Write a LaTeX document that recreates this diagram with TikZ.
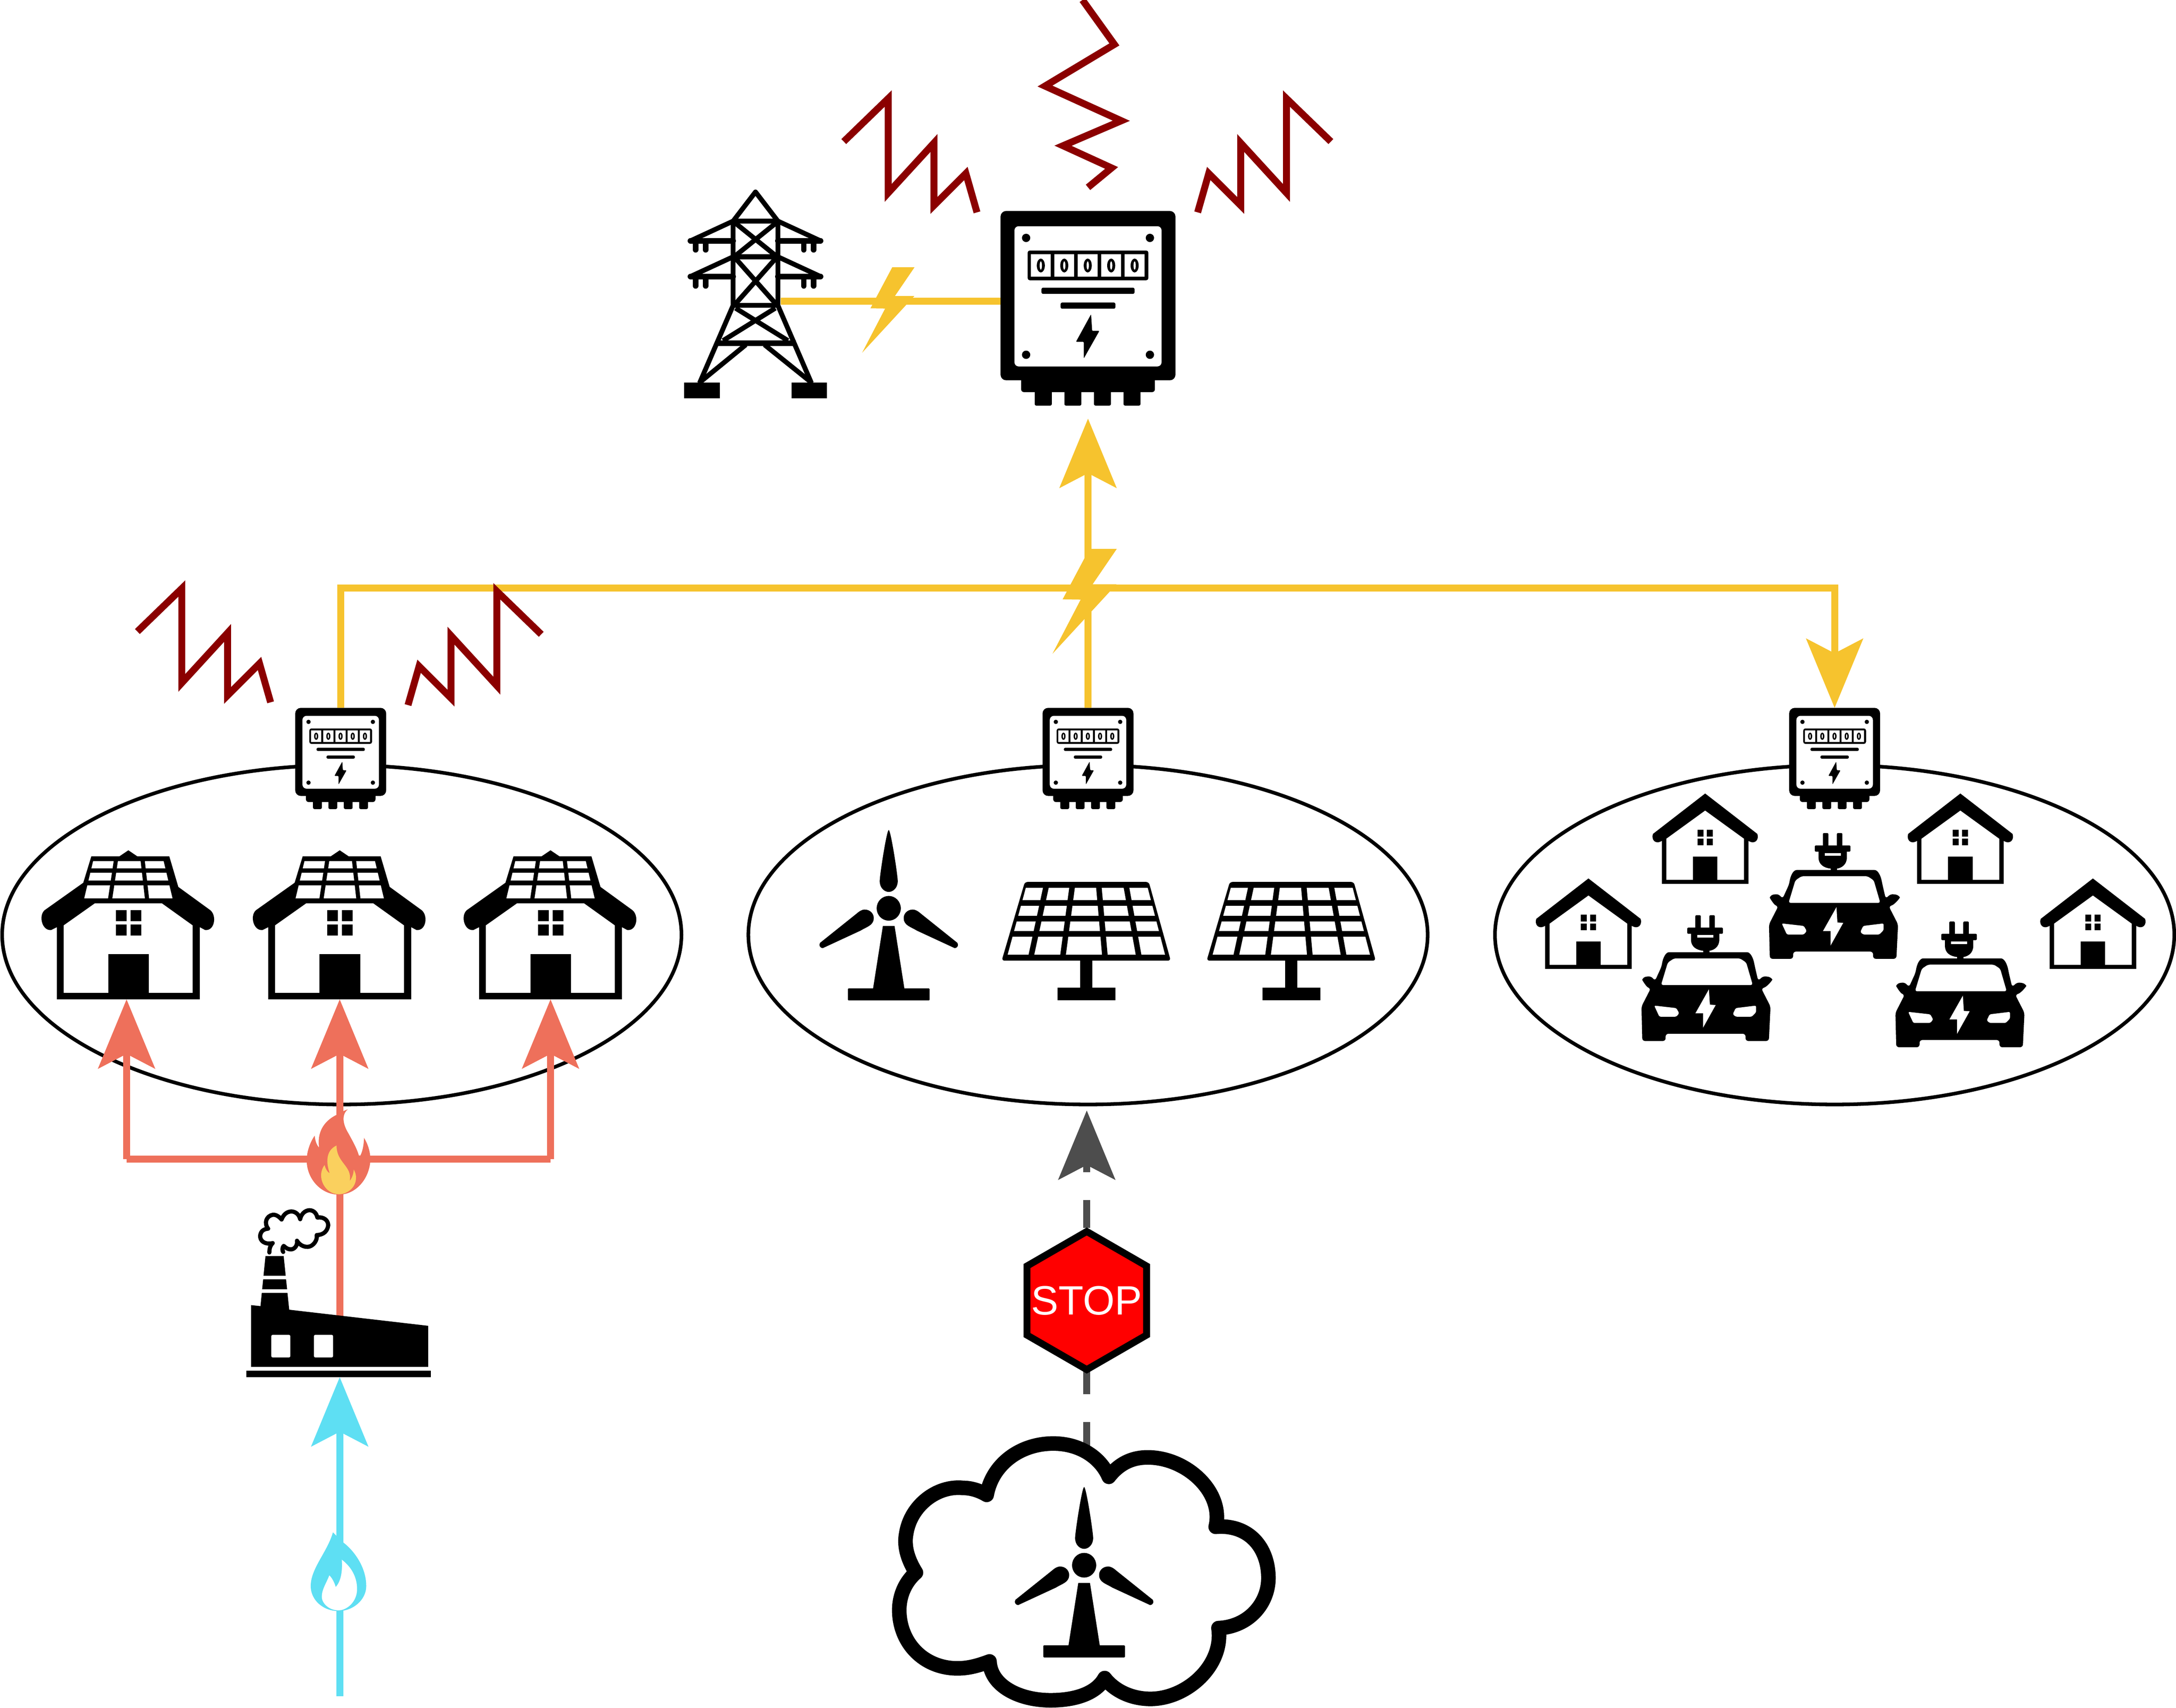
\documentclass[tikz,border=0pt]{standalone}
\usepackage{fontspec}
\setmainfont{Liberation Sans}
\usetikzlibrary{shapes.geometric,arrows.meta}
\definecolor{gridyellow}{HTML}{F6C32E}
\definecolor{heatred}{HTML}{EE705B}
\definecolor{flameyellow}{HTML}{FAD05E}
\definecolor{gasblue}{HTML}{5EDFF3}
\definecolor{dashgray}{HTML}{4D4D4D}
\definecolor{zigred}{HTML}{8B0000}

\begin{document}
\begin{tikzpicture}[
x=1pt,y=-1pt,
iconbox/.style={inner sep=0pt, outer sep=0pt},
region/.style={ellipse, draw=black, line width=2.6pt, inner sep=0pt, minimum width=489.5pt, minimum height=244.5pt},
stopsign/.style={regular polygon, regular polygon sides=6, shape border rotate=30, draw=black, fill=red, line width=5pt, inner sep=0pt, minimum size=99.5pt},
stoptext/.style={text=white, inner sep=0pt, font=\fontsize{29.5}{30}\selectfont},
gridline/.style={draw=gridyellow, line width=5pt},
heatline/.style={draw=heatred, line width=5pt},
gasline/.style={draw=gasblue, line width=5pt},
blockedline/.style={draw=dashgray, line width=5pt, dash pattern=on 20pt off 20pt},
bigtip/.tip={Stealth[length=49.7pt,width=40.7pt,inset=10.4pt]},
pylonline/.style={line width=3.5pt, line cap=butt, line join=round},
zigline/.style={draw=zigred, line width=5pt, miter limit=20},
% Icons
zigzag/.pic={
  \draw[zigline] (-32,34) -- (0,3) -- (0,71) -- (33,35) -- (33,80) -- (56,57) -- (64,85);
},
bolt/.pic={
  \fill[gridyellow] (3.5,-37.5) -- (23.2,-37.5) -- (5.8,-12) -- (23,-12) -- (-23.1,38) -- (-2.8,-1) -- (-15.8,-1.2) -- cycle;
},
meter/.pic={
  \fill[rounded corners=4pt] (-63,0) rectangle (63,122);
  \fill[rounded corners=2pt] (-48.2,118) rectangle (48.2,130.5);
  \fill[rounded corners=1pt] (-38.4,125) rectangle (-26.1,140.2);
  \fill[rounded corners=1pt] (-17,125) rectangle (-4.8,140.2);
  \fill[rounded corners=1pt] (4.3,125) rectangle (16.5,140.2);
  \fill[rounded corners=1pt] (25.6,125) rectangle (37.8,140.2);
  \fill[white,rounded corners=3pt] (-53,11) rectangle (53,112);
  \fill (-44.6,19.4) circle [radius=3] (44.6,19.4) circle [radius=3] (-44.6,103.6) circle [radius=3] (44.6,103.6) circle [radius=3];
  \fill[rounded corners=1.5pt] (-43.5,28.5) rectangle (43.5,49.9);
  \fill[white] (-41.2,31.2) rectangle ++(14.3,16.1) (-24.3,31.2) rectangle ++(14.3,16.1) (-7.4,31.2) rectangle ++(14.3,16.1) (9.5,31.2) rectangle ++(14.3,16.1) (26.4,31.2) rectangle ++(14.3,16.1);
  \fill (-34,39.3) ellipse [x radius=2.9,y radius=5] (-17.1,39.3) ellipse [x radius=2.9,y radius=5] (-0.2,39.3) ellipse [x radius=2.9,y radius=5] (16.7,39.3) ellipse [x radius=2.9,y radius=5] (33.6,39.3) ellipse [x radius=2.9,y radius=5];
  \fill[white] (-34,39.3) ellipse [x radius=0.8,y radius=3] (-17.1,39.3) ellipse [x radius=0.8,y radius=3] (-0.2,39.3) ellipse [x radius=0.8,y radius=3] (16.7,39.3) ellipse [x radius=0.8,y radius=3] (33.6,39.3) ellipse [x radius=0.8,y radius=3];
  \fill[rounded corners=1pt] (-33.5,55.3) rectangle (33.5,59.7);
  \fill[rounded corners=1pt] (-19.7,66) rectangle (19.7,70.4);
  \fill[rounded corners=0.5pt] (2.2,74.4) -- (3,86.4) -- (8.2,86.4) -- (-3,106.2) -- (-3,94.3) -- (-8.7,94.3) -- cycle;
},
solarhouse/.pic={
  \fill (-51.5,0) -- (-51.5,-52) -- (-55.5,-50) .. controls (-62,-49) and (-65,-60) .. (-60.4,-64.2) -- (-32.5,-84) -- (-26.7,-103) -- (-6.5,-103) -- (0,-107.4) -- (6.5,-103) -- (29.5,-103) -- (36,-81) -- (59.1,-64.2) .. controls (64,-60) and (62,-49) .. (55.2,-50) -- (51.5,-52) -- (51.5,0) -- cycle;
  \fill[white] (-46.6,-4.7) -- (46.3,-4.7) -- (46.3,-53.3) -- (24.1,-69.2) -- (-24.1,-69.2) -- (-46.6,-53.3) -- cycle;
  \fill (-14.5,-32.6) rectangle (14.8,-4);
  \fill (-9,-64.2) rectangle (-1.3,-56.3) (1.6,-64.2) rectangle (9.3,-56.3) (-9,-53.9) rectangle (-1.3,-46) (1.6,-53.9) rectangle (9.3,-46);
  \fill[white] (-25.4,-99.6) -- (25.4,-99.6) -- (31.8,-72.8) -- (-31.8,-72.8) -- cycle;
  \draw[line width=3.4pt] (-29,-92.8) -- (29,-92.8) (-30,-84) -- (30,-84);
  \draw[line width=3pt] (-9,-100) -- (-13.2,-72) (10.3,-100) -- (13.5,-72);
},
smallhouse/.pic={
  \fill (-31.2,0) -- (-31.2,-31) .. controls (-36,-28) and (-39,-32) .. (-37.6,-36) -- (0,-65.1) -- (37.6,-36) .. controls (39,-32) and (36,-28) .. (31.2,-31) -- (31.2,0) -- cycle;
  \fill[white] (-28,-2.9) -- (28,-2.9) -- (28,-32.5) -- (0,-52.8) -- (-28,-32.5) -- cycle;
  \fill (-8.9,-19.7) rectangle (8.9,-2);
  \fill (-5.5,-39) rectangle (-1.2,-34.1) (1.2,-39) rectangle (5.5,-34.1) (-5.5,-32.6) rectangle (-1.2,-27.8) (1.2,-32.6) rectangle (5.5,-27.8);
},
evcar/.pic={
  \fill[rounded corners=2pt] (-45.9,0) -- (-29.1,0) -- (-29.1,-5.2) -- (28.5,-5.2) -- (28.5,0) -- (45.3,0) -- (46.5,-24.8) -- (39.8,-37.9) .. controls (44,-39) and (48,-44) .. (46.8,-46) -- (41.3,-46.8) -- (37.6,-43.4) -- (35.2,-53.7) .. controls (34,-60) and (32,-64) .. (27.5,-64) -- (-24.5,-64) .. controls (-29,-64) and (-31,-60) .. (-32,-53.7) -- (-36.7,-43.4) -- (-39.8,-46.8) -- (-45.3,-46) .. controls (-46,-44) and (-43,-39) .. (-39.8,-37.9) -- (-46.5,-24.8) -- cycle;
  \fill[white,rounded corners=1.5pt] (-32.4,-40.3) -- (33.7,-40.3) -- (29,-56.5) -- (24.5,-59.5) -- (-23,-59.5) -- (-27.5,-56.5) -- cycle;
  \fill[white,rounded corners=1pt] (-37.3,-25.5) -- (-21.4,-23.7) -- (-19.3,-20) -- (-21.4,-17.5) -- (-33.6,-17.5) -- cycle;
  \fill[white,rounded corners=1pt] (36.1,-25.5) -- (21.4,-23.7) -- (19.3,-19.3) -- (21.4,-17.5) -- (33,-17.5) -- (36.1,-20.7) -- cycle;
  \fill[white] (2.1,-37.2) -- (2.8,-26.2) -- (7,-25.9) -- (-2.1,-9.6) -- (-2.1,-20) -- (-7.6,-20) -- cycle;
  \fill[rounded corners=0.8pt] (-13.5,-81.7) rectangle (12.2,-77.2);
  \fill[rounded corners=0.8pt] (-7.7,-90.6) rectangle (-3.7,-81) (2.4,-90.6) rectangle (6.4,-81);
  \fill (-10.8,-77.4) -- (9.6,-77.4) -- (9.6,-73) .. controls (9.6,-68) and (6,-65.5) .. (2.5,-65) -- (2.5,-63) -- (-2,-63) -- (-2,-65) .. controls (-7,-65.5) and (-10.8,-68) .. (-10.8,-73) -- cycle;
  \fill[white] (-6.4,-76.3) rectangle (5.2,-74.4);
},
solarpanel/.pic={
  \fill[rounded corners=2pt] (-44.3,-85.4) -- (45,-85.4) -- (60.8,-28.7) -- (-61,-28.7) -- cycle;
  \fill (-4.4,-29) rectangle (4.4,-5);
  \fill (-20.9,-9.1) rectangle (20.9,0);
  \fill[white] (-43.6,-81.2) -- (44.2,-81.2) -- (56.7,-33) -- (-56.7,-33) -- cycle;
  \draw[line width=4.1pt] (-48,-70.1) -- (48,-70.1) (-51,-59) -- (51,-59) (-54,-48.1) -- (54,-48.1);
  \draw[line width=4pt] (-29,-82) -- (-39.8,-32) (-10.2,-82) -- (-16.9,-32) (9,-82) -- (13.4,-32) (28.8,-82) -- (37.8,-32);
},
turbine/.pic={
  \fill (0,-122.8) .. controls (-1.5,-122.8) and (-6.5,-90) .. (-6.5,-86) .. controls (-6.5,-81) and (-3,-78.2) .. (0,-78.2) .. controls (3,-78.2) and (6.5,-81) .. (6.5,-86) .. controls (6.5,-90) and (1.5,-122.8) .. (0,-122.8) -- cycle;
  \fill (0,-66.4) ellipse [x radius=8.7,y radius=8.9];
  \fill (-17.4,-65.5) .. controls (-13,-65.5) and (-10.5,-62) .. (-10.8,-59) .. controls (-11,-54) and (-16,-53) .. (-20.3,-50.3) -- (-47.5,-37.7) .. controls (-50,-38) and (-50.3,-40) .. (-49.5,-41.5) -- (-23,-62.7) .. controls (-21,-64.5) and (-19,-65.5) .. (-17.4,-65.5) -- cycle;
  \fill (17.4,-65.5) .. controls (13,-65.5) and (10.5,-62) .. (10.8,-59) .. controls (11,-54) and (16,-53) .. (20.3,-50.3) -- (47.5,-37.7) .. controls (50,-38) and (50.3,-40) .. (49.5,-41.5) -- (23,-62.7) .. controls (21,-64.5) and (19,-65.5) .. (17.4,-65.5) -- cycle;
  \fill (-4.2,-53.7) -- (4.2,-53.7) -- (11.3,-8.5) -- (-11.3,-8.5) -- cycle;
  \fill[rounded corners=0.5pt] (-29.4,-8.7) rectangle (29.4,0);
}
]
\useasboundingbox (0,0) rectangle (1568,1230.5);

%Regions
\node[region] at (246.3,673.5) (regionA) {};
\node[region] at (784,673.5) (regionB) {};
\node[region] at (1322,673.5) (regionC) {};

%Nodes
\node[iconbox, minimum width=126pt, minimum height=149.6pt] at (784,226.8) (mainMeter) {};
\node[iconbox, minimum width=65.6pt, minimum height=72.8pt] at (245.5,546.4) (meterA) {};
\node[iconbox, minimum width=65.6pt, minimum height=72.8pt] at (784,546.4) (meterB) {};
\node[iconbox, minimum width=65.6pt, minimum height=72.8pt] at (1322,546.4) (meterC) {};
\node[iconbox, minimum width=116pt, minimum height=107pt] at (91.2,666.5) (houseA) {};
\node[iconbox, minimum width=116pt, minimum height=107pt] at (244.8,666.5) (houseB) {};
\node[iconbox, minimum width=116pt, minimum height=107pt] at (396.7,666.5) (houseC) {};
\node[iconbox, minimum width=133pt, minimum height=87.2pt] at (244.8,948.6) (factory) {};
\coordinate (pylonOut) at (562.5,217);
\coordinate (gridBus) at (784,423.8);
\coordinate (heatLeft) at (91.2,835);
\coordinate (heatRight) at (396.7,835);
\coordinate (factoryOut) at (244.8,950);
\coordinate (gasIn) at (244.8,1222.2);
\coordinate (cloudOut) at (783.1,1044.6);

%Lines
\draw[gridline] (pylonOut) -- (mainMeter.west |- pylonOut);
\draw[gridline,-{bigtip}] (meterB.north) -- (mainMeter.south);
\draw[gridline,-{bigtip}] (meterA.north) |- (gridBus) -| (meterC.north);
\draw[heatline] (heatLeft) -- (heatRight);
\draw[heatline,-{bigtip}] (factoryOut) -- (houseB.south);
\draw[heatline,-{bigtip}] (heatLeft) -- (houseA.south);
\draw[heatline,-{bigtip}] (heatRight) -- (houseC.south);
\draw[gasline,-{bigtip}] (gasIn) -- (factory.south);
\draw[blockedline,-{bigtip},shorten >=3pt] (cloudOut) -- (cloudOut |- regionB.south);

%Stop sign
\node[stopsign] at (783.1,937) (stop) {};
\node[stoptext] at (stop.center) (stopLabel) {STOP};

%Meters
\pic at (784,152) {meter};
\pic[scale=0.52] at (245.5,510) {meter};
\pic[scale=0.52] at (784,510) {meter};
\pic[scale=0.52] at (1322,510) {meter};

%Bolts
\pic[scale=0.815] at (640.1,223.1) {bolt};
\pic at (781.5,433) {bolt};

%Zigzags
\pic at (640,68) {zigzag};
\pic[xscale=-1] at (927,68) {zigzag};
\pic at (131,421) {zigzag};
\pic[xscale=-1] at (358,423) {zigzag};
\draw[zigline] (780,0) -- (803,32) -- (753,62) -- (808,87) -- (766,105) -- (801,121) -- (784,135);

%Pylon
\draw[pylonline] (544.4,138.3) -- (528.3,159.3) -- (560.5,159.3) -- cycle;
\draw[pylonline] (528.3,159.3) -- (528.3,220) (560.5,159.3) -- (560.5,220);
\draw[pylonline] (528.3,185) -- (560.5,185) (526.6,220) -- (562.2,220);
\draw[pylonline] (529,160) -- (560,185) (560,160) -- (529,185) (529,185) -- (560,220) (560,185) -- (529,220);
\draw[pylonline] (528.3,159.3) -- (497.6,173.5) (560.5,159.3) -- (591.2,173.5);
\draw[pylonline] (528.3,185) -- (497.6,199.2) (560.5,185) -- (591.2,199.2);
\draw[pylonline,line width=4pt,line cap=round] (497.5,173.5) -- (528.3,173.5) (560.5,173.5) -- (591.3,173.5) (497.5,199.2) -- (528.3,199.2) (560.5,199.2) -- (591.3,199.2);
\draw[pylonline,line width=4pt,line cap=round] (501.2,174) -- (501.2,180) (508.5,174) -- (508.5,180) (579.2,174) -- (579.2,180) (586.3,174) -- (586.3,180);
\draw[pylonline,line width=4pt,line cap=round] (501.2,200) -- (501.2,206) (508.5,200) -- (508.5,206) (579.2,200) -- (579.2,206) (586.3,200) -- (586.3,206);
\draw[pylonline] (528.3,220) -- (504.1,276) (560.5,220) -- (584.7,276);
\draw[pylonline,line width=4pt] (515.5,247.2) -- (573.5,247.2);
\draw[pylonline] (530,222) -- (567.8,245.4) (558.7,222) -- (521,245.4);
\draw[pylonline] (537.4,248.4) -- (504.1,275.6) (550.9,248.4) -- (584.7,275.6);
\fill (492.9,275.6) rectangle (518.7,287) (570.4,275.6) rectangle (595.9,287);

%Houses
\pic at (92.5,720) {solarhouse};
\pic at (244.8,720) {solarhouse};
\pic at (396.7,720) {solarhouse};
\pic at (1228.7,636.8) {smallhouse};
\pic at (1412.6,636.8) {smallhouse};
\pic at (1144.6,698) {smallhouse};
\pic at (1508.1,698) {smallhouse};

%Cars
\pic at (1321.2,690.8) {evcar};
\pic at (1229.3,750) {evcar};
\pic at (1412.3,754.5) {evcar};

%Generation
\pic at (640.4,720.8) {turbine};
\pic at (782.8,720.8) {solarpanel};
\pic at (930.5,720.8) {solarpanel};

%Fire
\fill[heatred] (250.6,799.3) .. controls (246,803) and (247,810) .. (251,816.4) .. controls (254,822) and (257,827) .. (258.6,832.5) -- (259.7,832.5) .. controls (261.5,829) and (262.2,824) .. (262.3,819.8) .. controls (265,824) and (267,830) .. (266.9,836) .. controls (266,850) and (256,860.7) .. (244.2,860.7) .. controls (231,860.7) and (221,849) .. (221,836) .. controls (221,829) and (224,822) .. (226.8,818.2) .. controls (227,822) and (228.5,825.5) .. (229.9,826.7) .. controls (228.5,816) and (233,808) .. (242.3,803.3) .. controls (245,802) and (248,800) .. (250.6,799.3) -- cycle;
\fill[flameyellow] (242.5,825.3) .. controls (242.5,838) and (254,840) .. (252,850.8) .. controls (254,848.5) and (254.8,845) .. (254.9,842.6) .. controls (256,844.5) and (256.8,847) .. (256.5,849.4) .. controls (256,856) and (250,860.4) .. (244.2,860.4) .. controls (237,860.4) and (231.4,854) .. (231.4,846.7) .. controls (231.4,844) and (232.5,841) .. (233.9,839.4) .. controls (234.5,842) and (236,844.5) .. (237.6,845.3) .. controls (235,838) and (234.5,829) .. (242.5,825.3) -- cycle;

%Gas flame
\fill[gasblue] (239.9,1104) -- (247.1,1111.1) .. controls (255,1117) and (263.9,1129) .. (263.9,1142.6) .. controls (263.9,1153) and (254,1160.7) .. (243.9,1160.7) .. controls (233,1160.7) and (223.9,1153) .. (223.9,1142.6) .. controls (223.9,1130) and (236,1118) .. (239.9,1104) -- cycle;
\fill[white] (246.3,1123.7) .. controls (252,1128) and (257.3,1135) .. (257.3,1144.9) .. controls (257.3,1154) and (250,1160.2) .. (243.9,1160.2) .. controls (237,1160.2) and (231.9,1155) .. (231.9,1150.5) .. controls (231.9,1145) and (235,1141) .. (237.3,1135) .. controls (239,1136.5) and (241,1140) .. (241.9,1143.4) .. controls (245,1140) and (247,1134) .. (246.3,1123.7) -- cycle;

%Factory
\fill (180.9,940.3) -- (187.7,941) -- (191.3,904.9) -- (204.4,904.9) -- (208.4,943.6) -- (308.5,955.2) -- (308.5,984.8) -- (180.9,984.8) -- cycle;
\fill[white] (185,919.2) rectangle (211,921.7) (185,928.9) rectangle (211,931.5);
\fill[white,rounded corners=1pt] (195.5,961.7) rectangle (209.2,978) (226.2,961.7) rectangle (240,978);
\fill (177.4,987.4) rectangle (310.4,992.2);
\draw[line width=3pt,line cap=round,line join=round] (194.1,902.4) .. controls (194.1,899) and (195,897) .. (196.5,895.6) .. controls (191,897) and (187,894) .. (187.5,890) .. controls (188,887) and (190,885.5) .. (193.2,885.2) .. controls (190,881) and (192,876) .. (196.6,875.2) .. controls (199,875) and (201,876.5) .. (202.9,878.6) .. controls (204.5,874.5) and (207,873) .. (209.8,872.8) .. controls (213,872.8) and (215.5,875) .. (216.3,878.4) .. controls (217,874.5) and (220,872) .. (223,871.9) .. controls (226,872) and (228,874) .. (228.7,877.2) .. controls (233,876.5) and (236.5,879) .. (236.5,882.8) .. controls (236,887) and (233,889.8) .. (228.2,889.8) .. controls (229,893) and (226,898) .. (221.9,898.3) .. controls (218.5,898.5) and (215.5,896.5) .. (214,893.9) .. controls (214.5,897) and (212.5,900) .. (209.8,900.1) .. controls (207.5,900.3) and (206,899) .. (204.4,897.6) .. controls (203.3,899) and (203.3,901) .. (204.1,902);

%Cloud
\draw[line width=10.5pt,line join=round,fill=white] (711,1077) .. controls (715,1055) and (735,1040) .. (759,1040) .. controls (778,1040) and (793,1050) .. (799,1064) .. controls (806,1055) and (815,1050) .. (827,1050) .. controls (855,1050) and (882,1075) .. (876,1100) .. controls (900,1098) and (914,1115) .. (914,1137) .. controls (914,1155) and (900,1172) .. (878,1173) .. controls (882,1200) and (855,1224) .. (829,1224) .. controls (815,1224) and (803,1218) .. (796,1209) .. controls (790,1220) and (775,1225) .. (757,1225) .. controls (735,1225) and (714,1215) .. (713,1197) .. controls (705,1200) and (698,1202) .. (690,1202) .. controls (665,1202) and (648,1183) .. (648,1160) .. controls (648,1150) and (652,1140) .. (660,1133) .. controls (655,1125) and (651,1115) .. (653,1105) .. controls (656,1085) and (675,1070) .. (694,1072) .. controls (700,1072) and (706,1074) .. (711,1077) -- cycle;
\pic at (781.2,1194.1) {turbine};

\end{tikzpicture}
\end{document}
